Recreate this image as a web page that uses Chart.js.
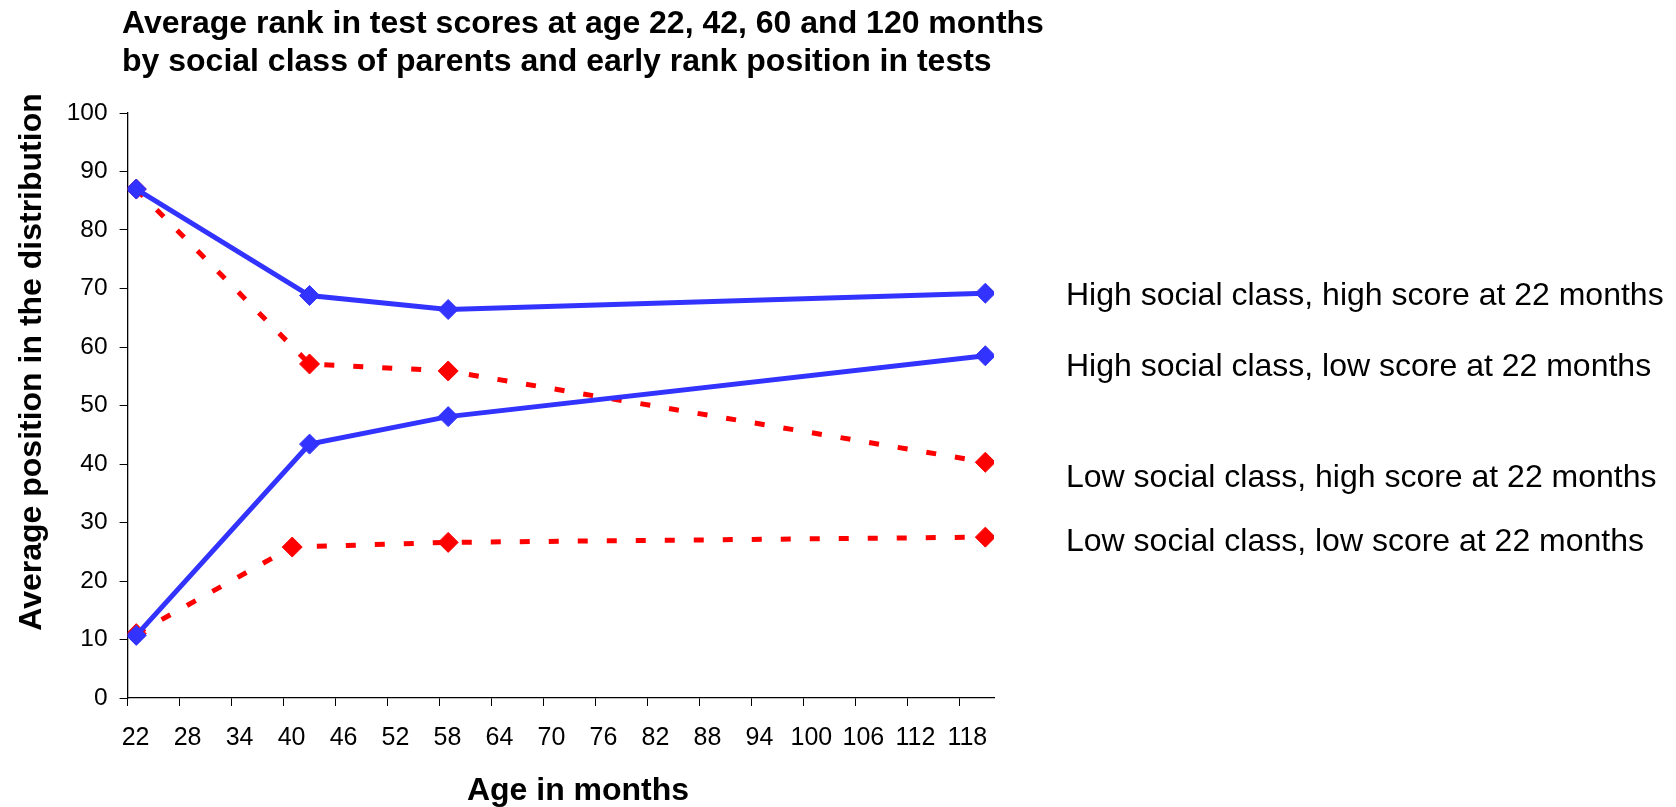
<!DOCTYPE html>
<html>
<head>
<meta charset="utf-8">
<title>Average rank in test scores</title>
<script src="https://cdn.jsdelivr.net/npm/chart.js@4.4.1/dist/chart.umd.min.js"></script>
<style>
  html, body { margin: 0; padding: 0; background: #fff; }
  #wrap { width: 1676px; height: 807px; }
</style>
</head>
<body>
<div id="wrap"><canvas id="rankChart" width="1676" height="807"></canvas></div>
<script>
// ages (months) at which the groups were measured
const ageMain = [23, 43, 59, 121];
const ageLowLow = [23, 41, 59, 121];

// average position in the distribution
const highClassHighScore = [87.0, 68.8, 66.4, 69.2];
const highClassLowScore = [10.7, 43.4, 48.1, 58.5];
const lowClassHighScore = [87.0, 57.1, 55.9, 40.3];
const lowClassLowScore = [11.0, 25.8, 26.6, 27.5];

const seriesNames = [
  'High social class, high score at 22 months',
  'High social class, low score at 22 months',
  'Low social class, high score at 22 months',
  'Low social class, low score at 22 months'
];

const xTicks = [22, 28, 34, 40, 46, 52, 58, 64, 70, 76, 82, 88, 94, 100, 106, 112, 118];
const yTicks = [0, 10, 20, 30, 40, 50, 60, 70, 80, 90, 100];

const titleLines = [
  'Average rank in test scores at age 22, 42, 60 and 120 months',
  'by social class of parents and early rank position in tests'
];
const xTitle = 'Age in months';
const yTitle = 'Average position in the distribution';

const FONT = '"Liberation Sans", Arial, Helvetica, sans-serif';
const BLUE = '#3333ff';
const RED = '#ff0000';

Chart.defaults.font.family = FONT;
Chart.defaults.color = '#000';

function pts(xs, ys) {
  return xs.map((x, i) => ({ x: x, y: ys[i] }));
}

function series(label, xs, ys, color, dashed) {
  return {
    label: label,
    data: pts(xs, ys),
    borderColor: color,
    backgroundColor: color,
    borderWidth: 5,
    borderDash: dashed ? [10, 19] : [],
    borderCapStyle: 'butt',
    tension: 0,
    pointStyle: 'rectRot',
    pointRadius: 10,
    pointBorderWidth: 1,
    pointBorderColor: color,
    pointBackgroundColor: color
  };
}

// titles, axis titles and the series labels on the right
const textPlugin = {
  id: 'texts',
  afterDraw(chart) {
    const ctx = chart.ctx;
    const y = chart.scales.y;
    ctx.save();
    ctx.fillStyle = '#000';

    ctx.font = 'bold 32px ' + FONT;
    ctx.textAlign = 'left';
    ctx.textBaseline = 'alphabetic';
    ctx.fillText(titleLines[0], 122, 33);
    ctx.fillText(titleLines[1], 122, 71);

    ctx.textAlign = 'center';
    ctx.fillText(xTitle, 578, 800);

    ctx.save();
    ctx.translate(41, 362);
    ctx.rotate(-Math.PI / 2);
    ctx.fillText(yTitle, 0, 0);
    ctx.restore();

    ctx.font = '32px ' + FONT;
    ctx.textAlign = 'left';
    ctx.textBaseline = 'middle';
    const labelAt = [68.7, 56.6, 37.6, 26.6];
    seriesNames.forEach((name, i) => {
      ctx.fillText(name, 1066, y.getPixelForValue(labelAt[i]));
    });
    ctx.restore();
  }
};

new Chart(document.getElementById('rankChart'), {
  type: 'line',
  data: {
    datasets: [
      series(seriesNames[0], ageMain, highClassHighScore, BLUE, false),
      series(seriesNames[1], ageMain, highClassLowScore, BLUE, false),
      series(seriesNames[2], ageMain, lowClassHighScore, RED, true),
      series(seriesNames[3], ageLowLow, lowClassLowScore, RED, true)
    ]
  },
  options: {
    responsive: false,
    animation: false,
    layout: { padding: { top: 113, right: 682, bottom: 0, left: 0 } },
    plugins: {
      legend: { display: false },
      tooltip: { enabled: false },
      title: { display: false }
    },
    scales: {
      x: {
        type: 'linear',
        min: 22,
        max: 122,
        afterBuildTicks: (s) => { s.ticks = xTicks.map(v => ({ value: v })); },
        afterFit: (s) => { s.height = 109; },
        grid: { drawOnChartArea: false, color: '#000', tickLength: 8, tickWidth: 1 },
        border: { display: true, color: '#000', width: 1.3 },
        ticks: { font: { size: 25 }, color: '#000', padding: 17, labelOffset: 8, maxRotation: 0, autoSkip: false }
      },
      y: {
        min: 0,
        max: 100,
        afterBuildTicks: (s) => { s.ticks = yTicks.map(v => ({ value: v })); },
        afterFit: (s) => { s.width = 127.6; },
        grid: { drawOnChartArea: false, color: '#000', tickLength: 8, tickWidth: 1 },
        border: { display: true, color: '#000', width: 1.3 },
        ticks: { font: { size: 24.5 }, color: '#000', padding: 12 }
      }
    }
  },
  plugins: [textPlugin]
});
</script>
</body>
</html>
